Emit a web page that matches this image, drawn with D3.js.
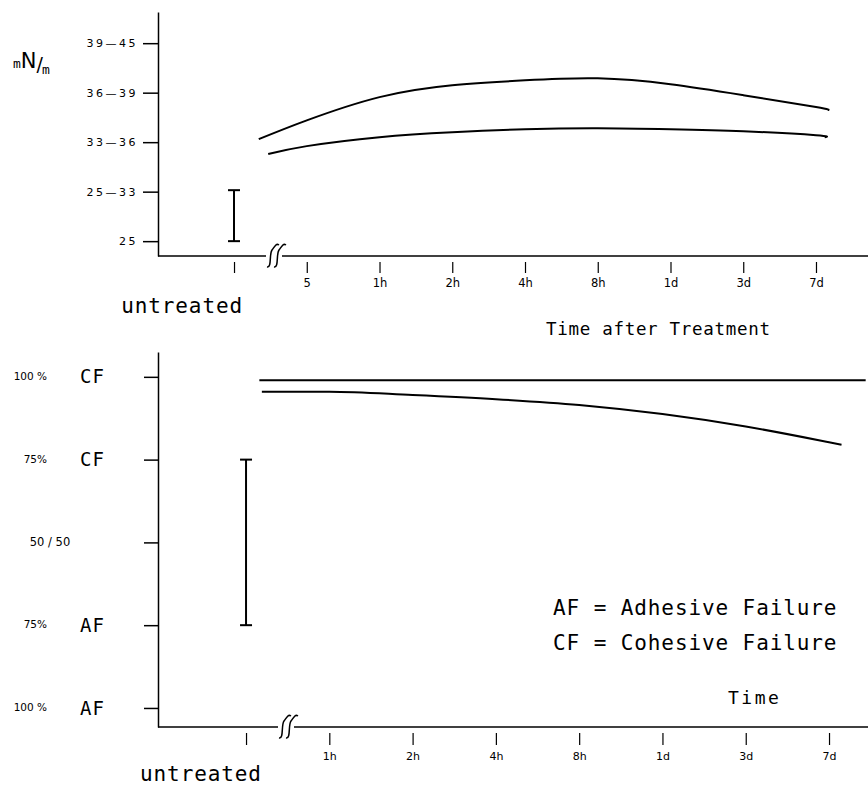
<!DOCTYPE html>
<html><head><meta charset="utf-8">
<script src="https://cdn.jsdelivr.net/npm/d3@7"></script>
<style>
body{margin:0;background:#fff;}
svg{display:block;}
text{font-family:"DejaVu Sans Mono","Liberation Mono",monospace;fill:#000;}
</style></head><body>
<script>
// ---------- DATA ----------
// Top panel: surface energy (mN/m), ordinal classes index 0..4
const topYLabels = ["25", "25\u201433", "33\u201436", "36\u201439", "39\u201445"];
const topXLabels = ["", "5", "1h", "2h", "4h", "8h", "1d", "3d", "7d"];
const topUpperX = [0.34, 1, 2, 3, 4, 5, 6, 7, 8, 8.16];
const topUpperY = [2.06, 2.44, 2.91, 3.15, 3.25, 3.29, 3.17, 2.95, 2.71, 2.65];
const topLowerX = [0.47, 1, 2, 3, 4, 5, 6, 7, 8, 8.12];
const topLowerY = [1.76, 1.92, 2.10, 2.20, 2.26, 2.28, 2.26, 2.22, 2.14, 2.10];
const topUntreatedRange = [0, 1.03];

// Bottom panel: failure mode, index 0 = 100% AF ... 4 = 100% CF
const botPctLabels = ["100 %", "75%", "50 / 50", "75%", "100 %"];
const botModeLabels = ["AF", "AF", "", "CF", "CF"];
const botXLabels = ["", "1h", "2h", "4h", "8h", "1d", "3d", "7d"];
const botUpperX = [0.16, 7.44];
const botUpperY = [3.96, 3.96];
const botLowerX = [0.19, 1, 2, 3, 4, 5, 6, 7, 7.15];
const botLowerY = [3.82, 3.82, 3.78, 3.73, 3.66, 3.55, 3.40, 3.21, 3.18];
const botUntreatedRange = [1, 3];
const legendLines = ["AF = Adhesive Failure", "CF = Cohesive Failure"];

// ---------- DRAW ----------
const W = 868, H = 790;
const svg = d3.select("body").append("svg").attr("width", W).attr("height", H);

function brk(g, x, y) {
  g.append("rect").attr("x", x - 2).attr("y", y - 3).attr("width", 16).attr("height", 6).attr("fill", "#fff");
  [0, 7].forEach(dx => {
    g.append("path")
      .attr("d", `M${x + dx - 1},${y + 11} C${x + dx + 4},${y + 12} ${x + dx + 1},${y - 2} ${x + dx + 4},${y - 6} S${x + dx + 8},${y - 13} ${x + dx + 11},${y - 11}`)
      .attr("fill", "none").attr("stroke", "#000").attr("stroke-width", 1.5);
  });
}

function errBar(g, x, y0, y1) {
  g.append("line").attr("x1", x).attr("x2", x).attr("y1", y0).attr("y2", y1).attr("stroke", "#000").attr("stroke-width", 2);
  [y0, y1].forEach(yy => g.append("line").attr("x1", x - 6).attr("x2", x + 6).attr("y1", yy).attr("y2", yy).attr("stroke", "#000").attr("stroke-width", 2));
}

// ===== TOP PANEL =====
{
  const g = svg.append("g");
  const x = d3.scaleLinear().domain([-1.045, 8.715]).range([158, 868]);
  const y = d3.scaleLinear().domain([-0.3, 4.63]).range([256, 12]);

  const ya = g.append("g").attr("transform", "translate(158,0)")
    .call(d3.axisLeft(y).tickValues(d3.range(5)).tickFormat(i => topYLabels[i]).tickSize(15).tickSizeOuter(0).tickPadding(5));
  ya.select(".domain").attr("stroke-width", 1.5);
  ya.selectAll(".tick line").attr("stroke-width", 1.5);
  ya.selectAll(".tick text").style("font-size", "11px").style("letter-spacing", "2.5px")
    .style("font-family", "'DejaVu Sans',sans-serif");

  g.append("line").attr("x1", 158).attr("x2", 868).attr("y1", 256).attr("y2", 256).attr("stroke", "#000").attr("stroke-width", 1.5);
  brk(g, 268, 256);

  const xa = g.append("g").attr("transform", "translate(0,256)")
    .call(d3.axisBottom(x).tickValues(d3.range(9)).tickFormat(i => topXLabels[i]).tickSize(17).tickPadding(6));
  xa.select(".domain").remove();
  xa.selectAll(".tick line").attr("y1", 6).attr("stroke-width", 1.2);
  xa.selectAll(".tick text").style("font-size", "11.5px").style("font-family", "'DejaVu Sans',sans-serif");

  const line = d3.line().x(d => x(d[0])).y(d => y(d[1])).curve(d3.curveNatural);
  g.append("path").attr("d", line(d3.zip(topUpperX, topUpperY))).attr("fill", "none").attr("stroke", "#000").attr("stroke-width", 2);
  g.append("path").attr("d", line(d3.zip(topLowerX, topLowerY))).attr("fill", "none").attr("stroke", "#000").attr("stroke-width", 2);

  errBar(g, x(0), y(topUntreatedRange[1]), y(topUntreatedRange[0]));

  const u = g.append("text").attr("x", 13).attr("y", 68);
  u.append("tspan").style("font-size", "13px").text("m");
  u.append("tspan").style("font-size", "21px").style("font-family", "'DejaVu Sans',sans-serif").text("N");
  u.append("tspan").style("font-size", "19px").style("font-family", "'DejaVu Sans',sans-serif").attr("dy", 3).text("/");
  u.append("tspan").style("font-size", "13px").attr("dx", -1).attr("dy", 3).text("m");

  g.append("text").attr("x", x(0) + 9).attr("y", 313).attr("text-anchor", "end")
    .style("font-size", "21px").style("letter-spacing", "0.9px").text("untreated");
  g.append("text").attr("x", 546).attr("y", 335)
    .style("font-size", "17.5px").style("letter-spacing", "0.7px").text("Time after Treatment");
}

// ===== BOTTOM PANEL =====
{
  const g = svg.append("g");
  const x = d3.scaleLinear().domain([-1.057, 7.468]).range([158, 868]);
  const y = d3.scaleLinear().domain([-0.23, 4.30]).range([727, 352]);

  const ya = g.append("g").attr("transform", "translate(158,0)")
    .call(d3.axisLeft(y).tickValues(d3.range(5)).tickFormat("").tickSize(14).tickSizeOuter(0));
  ya.select(".domain").attr("stroke-width", 1.5);
  ya.selectAll(".tick line").attr("stroke-width", 1.5);

  d3.range(5).forEach(i => {
    const yy = y(i);
    if (botModeLabels[i]) {
      g.append("text").attr("x", 47).attr("y", yy).attr("dy", "0.3em").attr("text-anchor", "end")
        .style("font-size", "10.5px").style("font-family", "'DejaVu Sans',sans-serif").text(botPctLabels[i]);
      g.append("text").attr("x", 80).attr("y", yy).attr("dy", "0.35em")
        .style("font-size", "19px").style("letter-spacing", "1px").text(botModeLabels[i]);
    } else {
      g.append("text").attr("x", 50).attr("y", yy).attr("dy", "0.35em").attr("text-anchor", "middle")
        .style("font-size", "11.5px").style("font-family", "'DejaVu Sans',sans-serif").text(botPctLabels[i]);
    }
  });

  g.append("line").attr("x1", 158).attr("x2", 868).attr("y1", 727).attr("y2", 727).attr("stroke", "#000").attr("stroke-width", 1.5);
  brk(g, 280, 727);

  const xa = g.append("g").attr("transform", "translate(0,727)")
    .call(d3.axisBottom(x).tickValues(d3.range(8)).tickFormat(i => botXLabels[i]).tickSize(18).tickPadding(7));
  xa.select(".domain").remove();
  xa.selectAll(".tick line").attr("y1", 6).attr("stroke-width", 1.2);
  xa.selectAll(".tick text").style("font-size", "11px").style("font-family", "'DejaVu Sans',sans-serif");

  const line = d3.line().x(d => x(d[0])).y(d => y(d[1])).curve(d3.curveMonotoneX);
  g.append("path").attr("d", line(d3.zip(botUpperX, botUpperY))).attr("fill", "none").attr("stroke", "#000").attr("stroke-width", 2);
  g.append("path").attr("d", line(d3.zip(botLowerX, botLowerY))).attr("fill", "none").attr("stroke", "#000").attr("stroke-width", 2);

  errBar(g, x(0), y(botUntreatedRange[1]), y(botUntreatedRange[0]));

  legendLines.forEach((t, i) => {
    g.append("text").attr("x", 553).attr("y", 615 + i * 35)
      .style("font-size", "21px").style("letter-spacing", "0.9px").text(t);
  });
  g.append("text").attr("x", 728).attr("y", 704)
    .style("font-size", "18px").style("letter-spacing", "2.5px").text("Time");
  g.append("text").attr("x", 140).attr("y", 781)
    .style("font-size", "21px").style("letter-spacing", "0.9px").text("untreated");
}
</script>
</body></html>
